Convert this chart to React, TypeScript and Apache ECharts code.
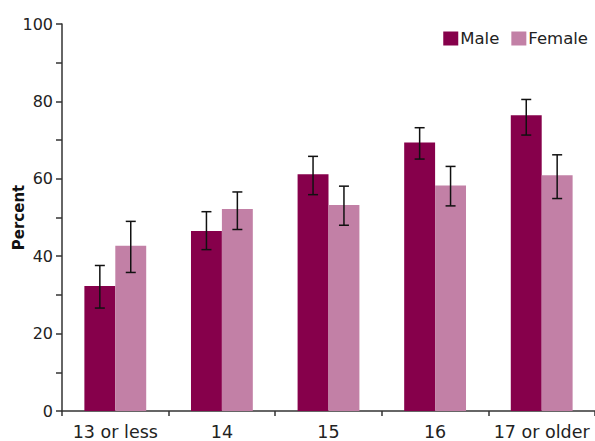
import React, { useEffect, useRef } from "react";
import * as echarts from "echarts";

const categories = ["13 or less", "14", "15", "16", "17 or older"];
const maleValues = [32.3, 46.5, 61.2, 69.4, 76.4];
const femaleValues = [42.7, 52.2, 53.2, 58.3, 60.9];
const maleLow = [26.6, 41.7, 55.9, 65.1, 71.3];
const maleHigh = [37.6, 51.5, 65.8, 73.2, 80.5];
const femaleLow = [35.8, 46.9, 48.0, 53.0, 54.9];
const femaleHigh = [49.0, 56.6, 58.1, 63.2, 66.2];

const MALE_COLOR = "#86004B";
const FEMALE_COLOR = "#C280A6";
const FONT = "'DejaVu Sans', sans-serif";

function errorSeries(low: number[], high: number[], side: number) {
  return {
    type: "custom",
    name: side < 0 ? "maleErr" : "femaleErr",
    data: low.map((l, i) => [i, l, high[i]]),
    z: 10,
    silent: true,
    renderItem: (params: any, api: any) => {
      const idx = api.value(0);
      const lo = api.coord([idx, api.value(1)]);
      const hi = api.coord([idx, api.value(2)]);
      const bw = api.size([1, 0])[0] * 0.29;
      const x = lo[0] + side * bw / 2;
      const cap = 5;
      const style = { stroke: "#111", lineWidth: 1.5 };
      return {
        type: "group",
        children: [
          { type: "line", shape: { x1: x, y1: hi[1], x2: x, y2: lo[1] }, style },
          { type: "line", shape: { x1: x - cap, y1: hi[1], x2: x + cap, y2: hi[1] }, style },
          { type: "line", shape: { x1: x - cap, y1: lo[1], x2: x + cap, y2: lo[1] }, style },
        ],
      };
    },
  };
}

export default function App() {
  const ref = useRef<HTMLDivElement>(null);
  useEffect(() => {
    if (!ref.current) return;
    const chart = echarts.init(ref.current, null, { renderer: "svg" });
    chart.setOption({
      animation: false,
      textStyle: { fontFamily: FONT },
      legend: {
        data: ["Male", "Female"],
        top: 25,
        right: 2,
        itemWidth: 15,
        itemHeight: 14,
        itemGap: 12,
        icon: "rect",
        textStyle: { fontSize: 16.5, color: "#222", fontFamily: FONT, padding: [0, 0, 0, -3] },
      },
      grid: { left: 62, right: 0, top: 24, bottom: 30, containLabel: false, outerBoundsMode: "none" },
      xAxis: {
        type: "category",
        data: categories,
        axisLine: { lineStyle: { color: "#333", width: 1.5 } },
        axisTick: { show: true, inside: false, length: 5, alignWithLabel: false, lineStyle: { color: "#333", width: 1.5 } },
        axisLabel: { fontSize: 17.5, color: "#222", margin: 12, fontFamily: FONT, interval: 0 },
      },
      yAxis: {
        type: "value",
        min: 0,
        max: 100,
        interval: 20,
        name: "Percent",
        nameLocation: "middle",
        nameGap: 36,
        nameMoveOverlap: false,
        nameTextStyle: { fontSize: 15, fontWeight: "bold", color: "#111", fontFamily: FONT },
        axisLine: { show: true, lineStyle: { color: "#333", width: 1.5 } },
        axisTick: { show: true, length: 6, lineStyle: { color: "#333", width: 1.5 } },
        minorTick: { show: true, splitNumber: 2, length: 6, lineStyle: { color: "#333", width: 1.5 } },
        splitLine: { show: false },
        axisLabel: { fontSize: 16, color: "#222", margin: 9, fontFamily: FONT },
      },
      series: [
        {
          name: "Male",
          type: "bar",
          data: maleValues,
          barWidth: "29%",
          barGap: "0%",
          itemStyle: { color: MALE_COLOR },
        },
        {
          name: "Female",
          type: "bar",
          data: femaleValues,
          barWidth: "29%",
          barGap: "0%",
          itemStyle: { color: FEMALE_COLOR },
        },
        errorSeries(maleLow, maleHigh, -1),
        errorSeries(femaleLow, femaleHigh, 1),
      ],
    });
    return () => chart.dispose();
  }, []);
  return <div ref={ref} style={{ width: 595, height: 441, position: "absolute", left: 0, top: 0 }} />;
}
